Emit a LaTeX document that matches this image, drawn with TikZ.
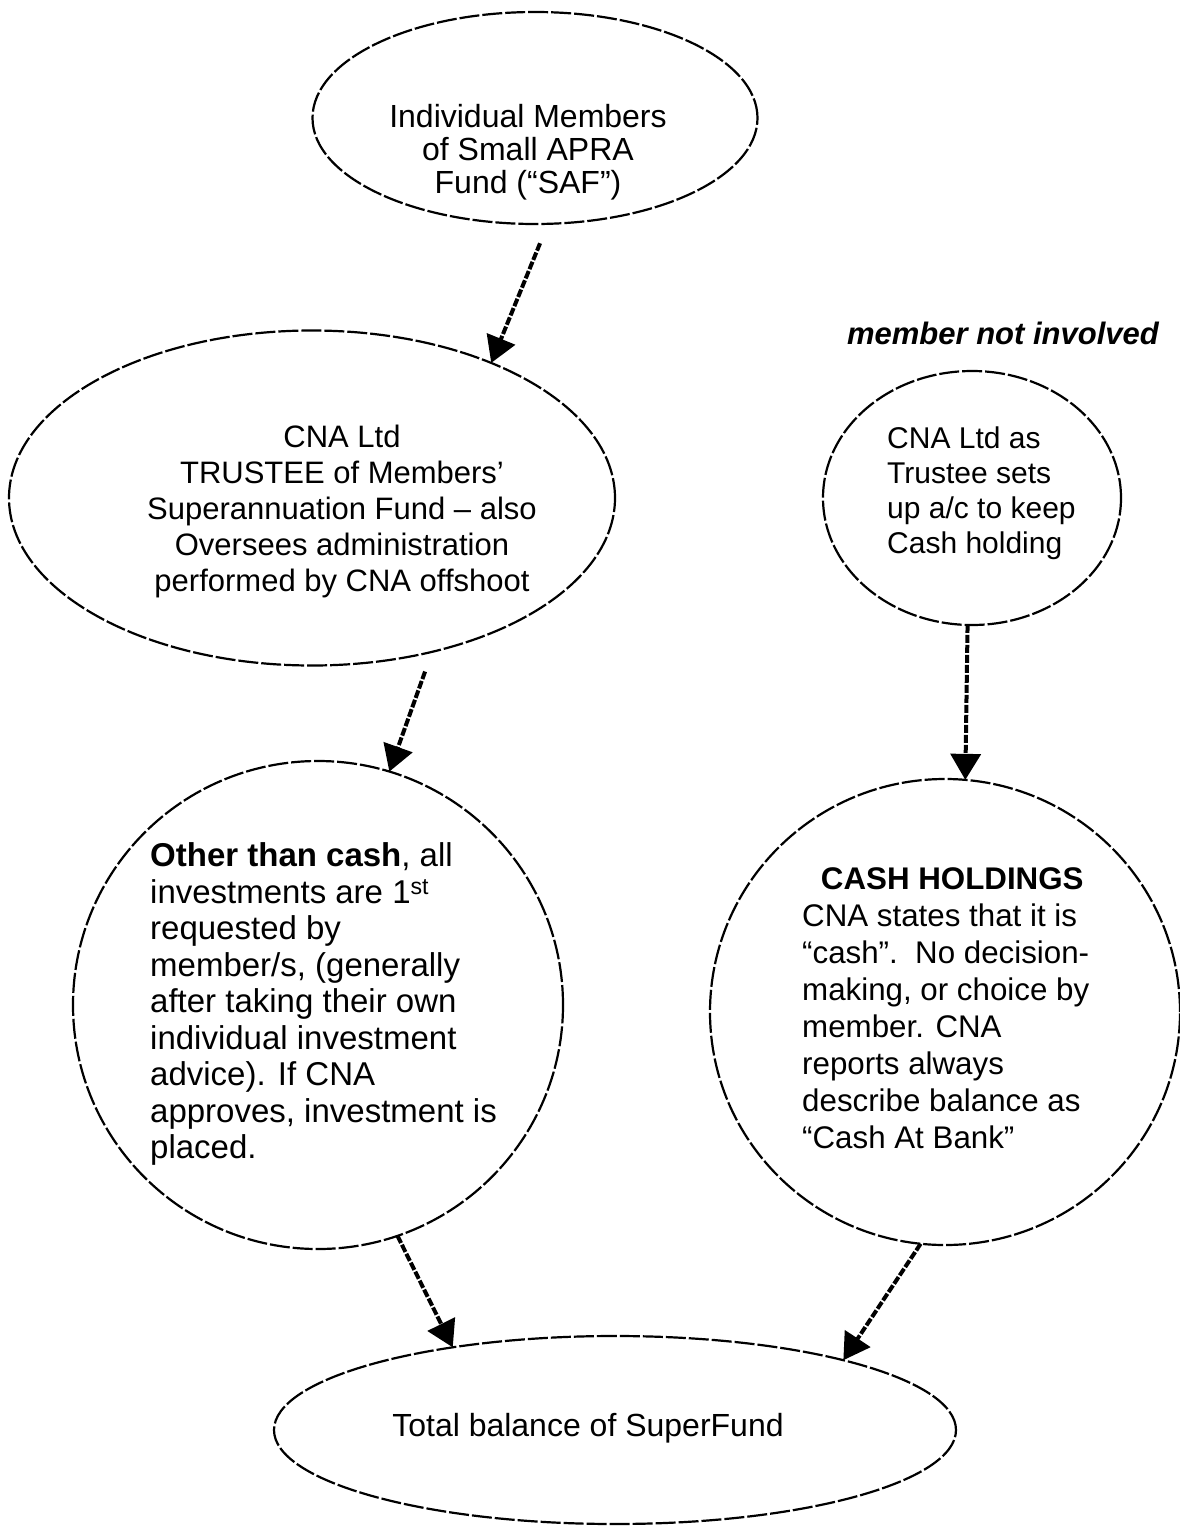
\documentclass[tikz,border=0pt]{standalone}
\usepackage{fontspec}
\setmainfont{Liberation Sans}
\usetikzlibrary{arrows.meta,shapes.geometric}
\begin{document}
\begin{tikzpicture}[x=1pt,y=-1pt,
  bubble/.style={draw, ellipse, line width=2.2pt, dash pattern=on 20pt off 3pt, inner sep=0pt, outer sep=0pt},
  flow/.style={line width=4pt, dash pattern=on 8pt off 2pt, -{Triangle[length=26pt,width=30pt]}},
  txt/.style={inner sep=0pt, align=center},
  ltxt/.style={inner sep=0pt, align=left, anchor=west},
]
\useasboundingbox (0,0) rectangle (1180,1526);

% shapes
\node[bubble, minimum width=445pt, minimum height=212pt] (e1) at (535,118) {};
\node[bubble, minimum width=606pt, minimum height=335pt] (e2) at (312,498) {};
\node[bubble, minimum width=298pt, minimum height=254pt] (e3) at (972,498) {};
\node[bubble, minimum width=490pt, minimum height=488pt] (e4) at (318,1005) {};
\node[bubble, minimum width=470pt, minimum height=466pt] (e5) at (945,1012) {};
\node[bubble, minimum width=682pt, minimum height=188pt] (e6) at (615,1430) {};

% texts
\node[txt, font=\fontsize{32}{33}\selectfont] (t1) at (528,152)
  {Individual Members\\of Small APRA\\Fund (“SAF”)};
\node[txt, font=\fontsize{31}{36}\selectfont] (t2) at (342,511)
  {CNA Ltd\\TRUSTEE of Members’\\Superannuation Fund – also\\Oversees administration\\performed by CNA offshoot};
\node[ltxt, font=\fontsize{30}{35}\selectfont] (t3) at (887,493)
  {CNA Ltd as\\Trustee sets\\up a/c to keep\\Cash holding};
\node[txt, font=\fontsize{31}{33}\selectfont\bfseries\itshape] (t0) at (1003,333)
  {member not involved};
\node[ltxt, font=\fontsize{33}{36.5}\selectfont] (t4) at (150,1004)
  {{\bfseries Other than cash}, all\\investments are 1\textsuperscript{st}\\requested by\\member/s, (generally\\after taking their own\\individual investment\\advice). If CNA\\approves, investment is\\placed.};
\node[ltxt, font=\fontsize{31.3}{37}\selectfont] (t5) at (802,1008)
  {\hspace*{0.6em}{\bfseries CASH HOLDINGS}\\CNA states that it is\\“cash”.\ \ No decision-\\making, or choice by\\member. CNA\\reports always\\describe balance as\\“Cash At Bank”};
\node[txt, font=\fontsize{32}{33}\selectfont] (t6) at (588,1428)
  {Total balance of SuperFund};

% connectors
\draw[flow, shorten <=21pt] (e1.-83) -- (e2.37.7);
\draw[flow, shorten <=21pt] (e2.-52) -- (e4.73.4);
\draw[flow] (e3.-92) -- (e5.85);
\draw[flow] (e4.-71) -- (e6.153);
\draw[flow] (e5.-96.9) -- (e6.17.6);
\end{tikzpicture}
\end{document}
